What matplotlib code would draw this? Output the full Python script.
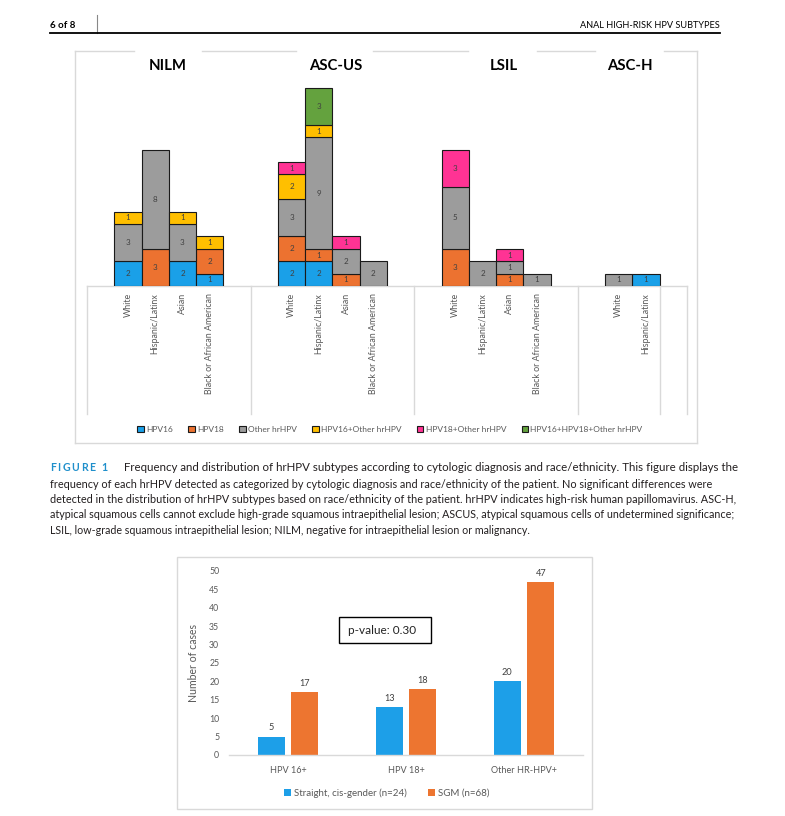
import matplotlib
matplotlib.use("Agg")
import matplotlib.pyplot as plt
from matplotlib.patches import Patch, Rectangle
from matplotlib.lines import Line2D
import matplotlib.transforms as mtransforms

plt.rcParams['font.family'] = ['Lato', 'DejaVu Sans']

# ---------------- data: figure 1 (stacked) ----------------
groups = ["NILM", "ASC-US", "LSIL", "ASC-H"]
group_cats = [
    ["White", "Hispanic/Latinx", "Asian", "Black or African American"],
    ["White", "Hispanic/Latinx", "Asian", "Black or African American"],
    ["White", "Hispanic/Latinx", "Asian", "Black or African American"],
    ["White", "Hispanic/Latinx"],
]
series_names = ["HPV16", "HPV18", "Other hrHPV", "HPV16+Other hrHPV",
                "HPV18+Other hrHPV", "HPV16+HPV18+Other hrHPV"]
hpv16       = [2, 0, 2, 1,  2, 2, 0, 0,  0, 0, 0, 0,  0, 1]
hpv18       = [0, 3, 0, 2,  2, 1, 1, 0,  3, 0, 1, 0,  0, 0]
other       = [3, 8, 3, 0,  3, 9, 2, 2,  5, 2, 1, 1,  1, 0]
hpv16_other = [1, 0, 1, 1,  2, 1, 0, 0,  0, 0, 0, 0,  0, 0]
hpv18_other = [0, 0, 0, 0,  1, 0, 1, 0,  3, 0, 1, 0,  0, 0]
triple      = [0, 0, 0, 0,  0, 3, 0, 0,  0, 0, 0, 0,  0, 0]
series_vals = [hpv16, hpv18, other, hpv16_other, hpv18_other, triple]
series_colors = ["#1AA0E8", "#EC7230", "#9C9C9C", "#FFBF00", "#FF3394", "#64A23E"]

# ---------------- data: figure 2 (grouped) ----------------
cats2 = ["HPV 16+", "HPV 18+", "Other HR-HPV+"]
straight = [5, 13, 20]
sgm = [17, 18, 47]
names2 = ["Straight, cis-gender (n=24)", "SGM (n=68)"]
colors2 = ["#1D9FE8", "#ED7530"]

W, H = 785, 816
fig = plt.figure(figsize=(W / 100, H / 100), dpi=100)
renderer = fig.canvas.get_renderer()


def fx(x):
    return x / W


def fy(y):
    return 1 - y / H


def rect(l, t, r, b):
    return [l / W, 1 - b / H, (r - l) / W, (b - t) / H]


def hline(x0, x1, y, **kw):
    fig.add_artist(Line2D([fx(x0), fx(x1)], [fy(y), fy(y)], transform=fig.transFigure, **kw))


def vline(x, y0, y1, **kw):
    fig.add_artist(Line2D([fx(x), fx(x)], [fy(y0), fy(y1)], transform=fig.transFigure, **kw))


def fitted_text(x, y, s, width, fs0=8.0, **kw):
    t = fig.text(fx(x), fy(y), s, fontsize=fs0, **kw)
    fs = fs0
    for _ in range(3):
        w = t.get_window_extent(renderer).width
        fs = fs * width / w
        t.set_fontsize(fs)
    best, best_err = fs, 1e9
    k = -30
    while k <= 30:
        cand = fs * (1 + k * 0.002)
        t.set_fontsize(cand)
        err = abs(t.get_window_extent(renderer).width - width)
        if err < best_err:
            best, best_err = cand, err
        k += 1
    t.set_fontsize(best)
    return t


# ---------------- page header ----------------
fig.text(fx(50), fy(25), "6 of 8", fontsize=7, fontweight='bold', va='center', ha='left')
vline(97, 15, 33, color='#888888', lw=0.8)
fig.text(fx(720), fy(25), "ANAL HIGH-RISK HPV SUBTYPES", fontsize=6.6, va='center', ha='right')
hline(50, 720, 33, color='black', lw=1.3)

# ---------------- figure 1 frame ----------------
grid_c = '#D9D9D9'
title_px = [168, 336, 504, 630]
gaps = [(134, 202), (296, 373), (468, 537), (595, 664)]
xs = [75]
for a, b in gaps:
    xs += [a, b]
xs += [697]
for i in range(0, len(xs), 2):
    hline(xs[i], xs[i + 1], 51, color=grid_c, lw=1)
vline(75, 51, 443, color=grid_c, lw=1)
vline(697, 51, 443, color=grid_c, lw=1)
hline(75, 697, 443, color=grid_c, lw=1)

# ---------------- figure 1 axes ----------------
unit = 12.4
ax1 = fig.add_axes(rect(87, 60, 687, 286))
slots, labels = [], []
for g, cl in enumerate(group_cats):
    for i, c in enumerate(cl):
        slots.append(6 * g + i)
        labels.append(c)
bottoms = [0] * len(slots)
for name, vals, col in zip(series_names, series_vals, series_colors):
    xs_s = [s for s, v in zip(slots, vals) if v > 0]
    hs = [v for v in vals if v > 0]
    bs = [b for b, v in zip(bottoms, vals) if v > 0]
    if xs_s:
        cont = ax1.bar(xs_s, hs, bottom=bs, width=1.0, color=col,
                       edgecolor='#1a1a1a', linewidth=0.8, label=name)
        ax1.bar_label(cont, labels=[str(v) for v in hs], label_type='center',
                      fontsize=5.8, color='#404040')
    bottoms = [b + v for b, v in zip(bottoms, vals)]

ax1.set_xlim(-1.5, 20.5)
ax1.set_ylim(0, (286 - 60) / unit)
ax1.set_yticks([])
for s in ['left', 'right', 'top']:
    ax1.spines[s].set_visible(False)
ax1.spines['bottom'].set_color(grid_c)
ax1.spines['bottom'].set_linewidth(1)
ax1.spines['bottom'].set_zorder(0)
ax1.set_xticks(slots, labels, rotation=90, fontsize=6.4, color='#595959')
ax1.tick_params(axis='x', length=0, pad=5)
for lab in ax1.get_xticklabels():
    lab.set_va('top')

trans = mtransforms.blended_transform_factory(ax1.transData, ax1.transAxes)
depth = -(414 - 286) / (286 - 60)
bounds = [6 * g - 1.5 for g in range(len(groups))]
bounds += [6 * (len(groups) - 1) + len(group_cats[-1]) - 0.5, 20.5]
for b in bounds:
    ax1.add_line(Line2D([b, b], [0, depth], transform=trans, color=grid_c,
                        lw=1, clip_on=False))

for tx, gname in zip(title_px, groups):
    fig.text(fx(tx), fy(66), gname, fontsize=10.7, fontweight='bold',
             ha='center', va='center')

handles1 = [Patch(facecolor=c, edgecolor='#1a1a1a', linewidth=0.8) for c in series_colors]
fig.legend(handles1, series_names, loc='center', bbox_to_anchor=(fx(390), fy(429)),
           ncol=6, frameon=False, fontsize=6.0, handlelength=0.75, handleheight=0.75,
           handletextpad=0.3, columnspacing=1.85, labelcolor='#595959', borderaxespad=0,
           borderpad=0)

# ---------------- caption ----------------
cap_lines = [
    "Frequency and distribution of hrHPV subtypes according to cytologic diagnosis and race/ethnicity. This figure displays the",
    "frequency of each hrHPV detected as categorized by cytologic diagnosis and race/ethnicity of the patient. No significant differences were",
    "detected in the distribution of hrHPV subtypes based on race/ethnicity of the patient. hrHPV indicates high-risk human papillomavirus. ASC-H,",
    "atypical squamous cells cannot exclude high-grade squamous intraepithelial lesion; ASCUS, atypical squamous cells of undetermined significance;",
    "LSIL, low-grade squamous intraepithelial lesion; NILM, negative for intraepithelial lesion or malignancy.",
]
cap_x = [124, 50, 50, 50, 50]
cap_end = [735, 713, 738, 737, 531]
cap_y = [468, 484, 499.5, 515, 530]

# FIGURE 1 letter-spaced
xcur = 50
for ch in "FIGURE 1":
    t = fig.text(fx(xcur), fy(468), ch, fontsize=7.6, fontweight='bold', color='#1F8FCB',
                 ha='left', va='center')
    w = t.get_window_extent(renderer).width
    if ch == ' ':
        w = 3
    xcur += w + 1.6

for ln, x0, x1, yy in zip(cap_lines, cap_x, cap_end, cap_y):
    fitted_text(x0, yy, ln, x1 - x0, color='#231F20', ha='left', va='center')

# ---------------- figure 2 ----------------
fig.add_artist(Rectangle((fx(177), fy(809)), (592 - 177) / W, (809 - 557) / H,
                         transform=fig.transFigure, fill=False, edgecolor=grid_c, lw=1))
ax2 = fig.add_axes(rect(229, 571, 583, 755))
xpos = list(range(len(cats2)))
bw = 0.225
off = 0.142
b1 = ax2.bar([x - off for x in xpos], straight, width=bw, color=colors2[0], label=names2[0])
b2 = ax2.bar([x + off for x in xpos], sgm, width=bw, color=colors2[1], label=names2[1])
ax2.bar_label(b1, padding=3, fontsize=6.6, color='#404040')
ax2.bar_label(b2, padding=3, fontsize=6.6, color='#404040')
ax2.set_xlim(-0.5, 2.5)
ax2.set_ylim(0, 50)
ax2.set_yticks(range(0, 51, 5))
ax2.tick_params(axis='y', length=0, pad=7, labelsize=6.3, labelcolor='#595959')
ax2.set_xticks(xpos, cats2)
ax2.tick_params(axis='x', length=0, pad=8, labelsize=6.6, labelcolor='#595959')
for s in ['left', 'right', 'top']:
    ax2.spines[s].set_visible(False)
ax2.spines['bottom'].set_color(grid_c)
ax2.spines['bottom'].set_linewidth(1)
ax2.set_ylabel("Number of cases", fontsize=7.6, color='#595959')
ax2.yaxis.set_label_coords((199 - 229) / 354, 0.5)
ax2.legend(loc='center', bbox_to_anchor=((387 - 229) / 354, (755 - 793) / 184), ncol=2,
           frameon=False, fontsize=7, handlelength=0.7, handleheight=0.7,
           handletextpad=0.3, columnspacing=2.2, labelcolor='#595959',
           borderaxespad=0, borderpad=0)
ax2.add_patch(Rectangle(((339 - 229) / 354, (755 - 643) / 184), 92 / 354, 26 / 184,
                        transform=ax2.transAxes, fill=False, edgecolor='black', lw=1,
                        clip_on=False))
ax2.text((348 - 229) / 354, (755 - 630) / 184, "p-value: 0.30", transform=ax2.transAxes,
         fontsize=8.5, color='#222222', ha='left', va='center')

fig.savefig("out.png", dpi=100)
